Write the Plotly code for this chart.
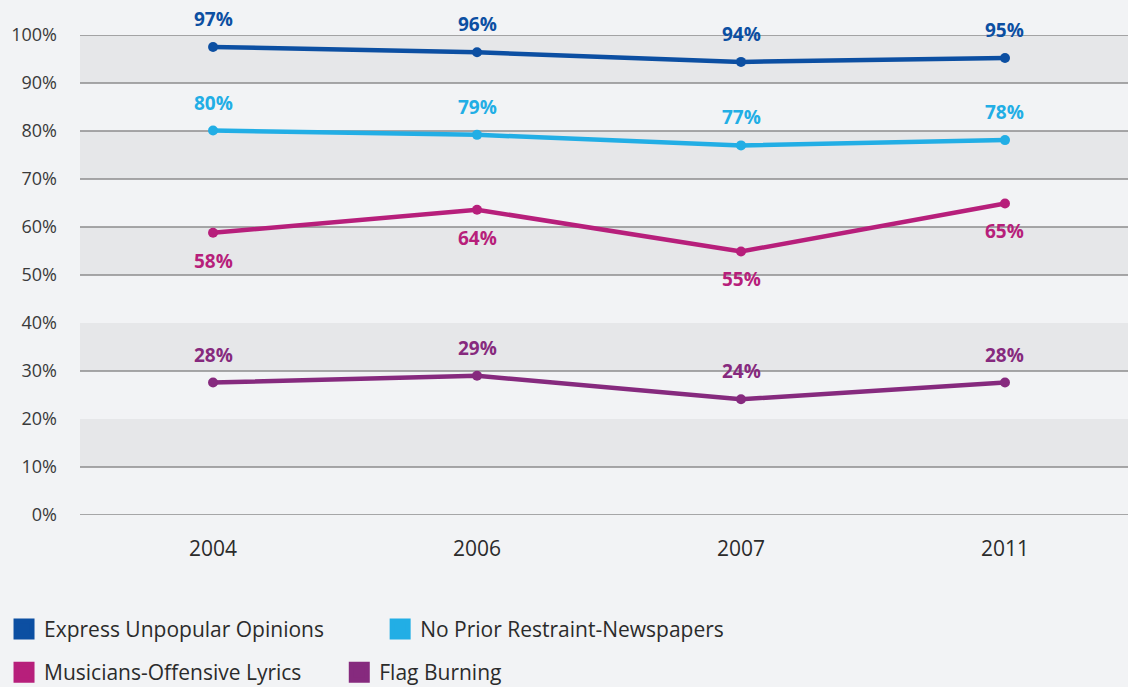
import plotly.graph_objects as go

years = ["2004", "2006", "2007", "2011"]

series_names = [
    "Express Unpopular Opinions",
    "No Prior Restraint-Newspapers",
    "Musicians-Offensive Lyrics",
    "Flag Burning",
]
express = [97.5, 96.4, 94.4, 95.2]
prior = [80.1, 79.2, 77.0, 78.1]
musicians = [58.8, 63.6, 54.9, 64.9]
flag = [27.6, 29.0, 24.1, 27.6]

express_labels = ["97", "96", "94", "95"]
prior_labels = ["80", "79", "77", "78"]
musicians_labels = ["58", "64", "55", "65"]
flag_labels = ["28", "29", "24", "28"]

y_ticks = [0, 10, 20, 30, 40, 50, 60, 70, 80, 90, 100]
grid_levels = [0, 10, 30, 50, 60, 70, 80, 90, 100]
bands = [(10, 20), (30, 40), (50, 60), (70, 80), (90, 100)]

colors = ["#0c4fa2", "#22aee5", "#b71f7b", "#862a7e"]
label_side = [1, 1, -1, 1]  # 1 = above, -1 = below

all_values = [express, prior, musicians, flag]
all_labels = [express_labels, prior_labels, musicians_labels, flag_labels]

PCT = "&#37;"
BG = "#f2f3f5"
BAND = "#e6e7e9"
GRID = "#8d8d8d"
FONT = "'Open Sans', Lato, sans-serif"

fig = go.Figure()

for name, vals, col in zip(series_names, all_values, colors):
    fig.add_trace(go.Scatter(
        x=years, y=vals, mode="lines+markers", name=name,
        line=dict(color=col, width=4.5),
        marker=dict(color=col, size=10),
        showlegend=False, cliponaxis=False, hoverinfo="skip",
    ))

annotations = []
for vals, labs, col, side in zip(all_values, all_labels, colors, label_side):
    for i, (yv, t) in enumerate(zip(vals, labs)):
        annotations.append(dict(
            x=i, y=yv, xref="x", yref="y", text="<b>" + t + PCT + "</b>",
            showarrow=False, yshift=28 * side,
            font=dict(family=FONT, size=19, color=col),
        ))

legend_ids = ["legend", "legend2", "legend3", "legend4"]
legend_pos = [(-0.0725, -0.2382), (0.2864, -0.2382), (-0.0725, -0.3282), (0.2474, -0.3282)]
for name, col, lid in zip(series_names, colors, legend_ids):
    fig.add_trace(go.Scatter(
        x=[None], y=[None], mode="markers", name=name,
        marker=dict(color=col, size=16, symbol="square", line=dict(color=col, width=5)),
        showlegend=True, legend=lid, hoverinfo="skip",
    ))

shapes = []
for y0, y1 in bands:
    shapes.append(dict(type="rect", xref="paper", yref="y", x0=0, x1=1, y0=y0, y1=y1,
                       fillcolor=BAND, line=dict(width=0), layer="below"))
for g in grid_levels:
    shapes.append(dict(type="line", xref="paper", yref="y", x0=0, x1=1, y0=g, y1=g,
                       line=dict(color=GRID, width=1.5), layer="below"))

layout_legends = {}
for lid, (lx, ly) in zip(legend_ids, legend_pos):
    layout_legends[lid] = dict(
        x=lx, y=ly, xanchor="left", yanchor="middle", orientation="h",
        bgcolor="rgba(0,0,0,0)", font=dict(family=FONT, size=21, color="#2b2b2b"),
        itemclick=False, itemdoubleclick=False,
    )

fig.update_layout(
    width=1128, height=687,
    margin=dict(l=80, r=0, t=35, b=172, autoexpand=False),
    paper_bgcolor=BG, plot_bgcolor=BG,
    font=dict(family=FONT, color="#333333"),
    showlegend=True,
    shapes=shapes,
    annotations=annotations,
    xaxis=dict(
        type="category", range=[-0.504, 3.466], showgrid=False, zeroline=False,
        showline=False, ticks="", tickfont=dict(family=FONT, size=21, color="#2b2b2b"),
        ticklabelstandoff=19, fixedrange=True, automargin=False,
    ),
    yaxis=dict(
        range=[0, 100], tickvals=y_ticks, ticktext=[f"{v}{PCT}" for v in y_ticks],
        showgrid=False, zeroline=False, showline=False, ticks="",
        tickfont=dict(family=FONT, size=18, color="#3a3a3a"),
        ticklabelstandoff=22, fixedrange=True, automargin=False,
    ),
    **layout_legends,
)

fig.write_html(
    "out.html",
    config={"displayModeBar": False},
    post_script="document.body.style.margin='0';document.body.style.background='#f2f3f5';",
)
